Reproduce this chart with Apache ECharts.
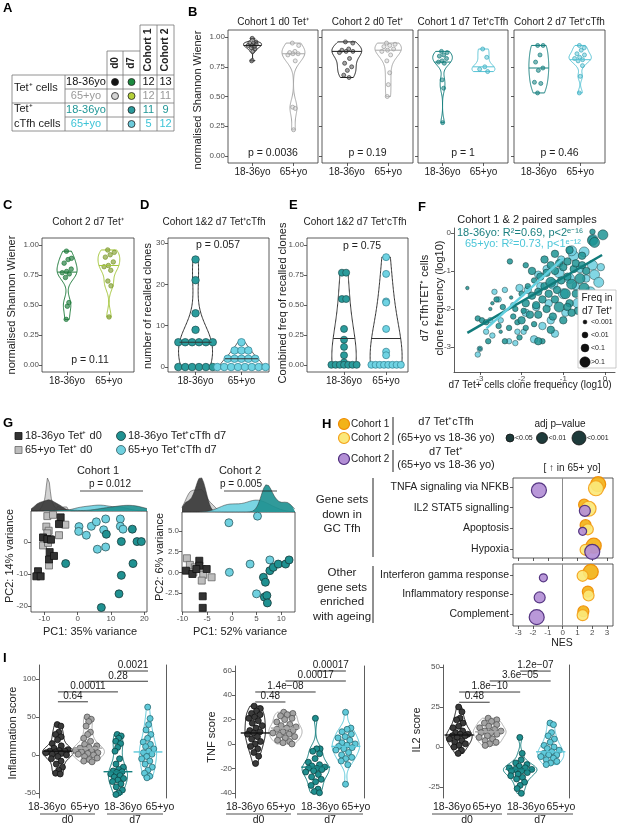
<!DOCTYPE html>
<html>
<head>
<meta charset="utf-8">
<script src="https://cdn.jsdelivr.net/npm/echarts@6.0.0/dist/echarts.min.js"></script>
<style>
html, body { margin: 0; padding: 0; background: #fff; }
#chart { width: 617px; height: 824px; }
</style>
</head>
<body>
<div id="chart"></div>
<script>
// ---------- A: sample table ----------
const tableAges = ['18-36yo', '65+yo', '18-36yo', '65+yo'];
const tableAgeColors = ['#111', '#999', '#1f9696', '#3cc3d6'];
const tableD0 = ['#111', '#d4d4d4', null, null];
const tableD7 = ['#1b8a3e', '#b5d13a', '#2a9a9c', '#6ccbdc'];
const tableCohort1 = [12, 12, 11, 5];
const tableCohort2 = [13, 11, 9, 12];

// ---------- B/C/D/E: diversity and recalled clones ----------
const ageCats = ['18-36yo', '65+yo'];
const b1Young = [0.99, 0.96, 0.95, 0.95, 0.94, 0.93, 0.93, 0.92, 0.91, 0.90, 0.88, 0.80];
const b1Old = [0.95, 0.93, 0.88, 0.87, 0.86, 0.86, 0.85, 0.80, 0.41, 0.40, 0.22];
const b1Mid = [0.93, 0.86];
const b2Young = [0.96, 0.95, 0.90, 0.89, 0.88, 0.88, 0.87, 0.82, 0.78, 0.75, 0.72, 0.68, 0.66];
const b2Old = [0.95, 0.94, 0.93, 0.92, 0.90, 0.89, 0.88, 0.85, 0.80, 0.70, 0.60, 0.50];
const b2Mid = [0.88, 0.89];
const b3Young = [0.88, 0.87, 0.85, 0.84, 0.82, 0.80, 0.79, 0.78, 0.64, 0.57, 0.28];
const b3Old = [0.90, 0.83, 0.75, 0.73, 0.71];
const b3Mid = [0.79, 0.75];
const b4Young = [0.93, 0.93, 0.85, 0.79, 0.74, 0.72, 0.62, 0.61, 0.53];
const b4Old = [0.93, 0.91, 0.89, 0.86, 0.85, 0.83, 0.82, 0.81, 0.80, 0.76, 0.67, 0.53];
const b4Mid = [0.74, 0.81];
const bPvals = ['p = 0.0036', 'p = 0.19', 'p = 1', 'p = 0.46'];
const cYoung = [0.95, 0.89, 0.88, 0.85, 0.80, 0.78, 0.77, 0.76, 0.73, 0.52, 0.49, 0.38];
const cOld = [0.96, 0.94, 0.92, 0.90, 0.86, 0.83, 0.82, 0.79, 0.70, 0.66, 0.40];
const cMid = [0.775, 0.83];
const dYoung = [26, 21, 13, 9, 6, 6, 6, 6, 6, 6, 0, 0, 0, 0, 0, 0];
const dOld = [6, 4, 4, 4, 2, 2, 2, 2, 2, 0, 0, 0, 0, 0, 0, 0, 0];
const dMid = [6, 2];
const eYoung = [0.77, 0.77, 0.55, 0.55, 0.30, 0.21, 0.15, 0.08, 0.02, 0, 0, 0, 0, 0, 0, 0];
const eOld = [0.90, 0.76, 0.53, 0.52, 0.30, 0.11, 0.08, 0, 0, 0, 0, 0, 0, 0, 0];
const eMid = [0.22, 0.22];
const shannonTicks = [0, 0.25, 0.5, 0.75, 1];
const cloneTicks = [0, 10, 20, 30];

// ---------- F: paired clone frequencies [x, y, freq class] ----------
const fYoung = [[-3.3,-1.45,0],[-3.05,-2.25,1],[-2.95,-2.3,1],[-2.85,-2.35,1],[-3.0,-3.05,0],[-2.75,-2.0,0],[-2.7,-1.85,0],[-2.8,-2.85,1],[-2.55,-2.45,1],[-2.5,-2.6,0],[-2.45,-1.95,1],[-2.4,-2.85,1],[-2.3,-2.5,1],[-2.25,-1.7,0],[-2.2,-2.2,1],[-2.15,-2.0,1],[-2.1,-2.35,1],[-2.05,-2.75,1],[-2.0,-1.6,1],[-2.0,-2.3,2],[-1.95,-2.05,1],[-1.9,-1.85,2],[-1.9,-2.5,1],[-1.85,-1.4,1],[-1.8,-2.15,2],[-1.75,-1.65,2],[-1.7,-2.4,1],[-1.7,-1.25,1],[-1.65,-1.9,2],[-1.6,-1.55,2],[-1.6,-2.15,2],[-1.55,-1.15,2],[-1.5,-1.75,2],[-1.5,-2.85,1],[-1.45,-1.4,2],[-1.4,-1.05,2],[-1.4,-2.0,2],[-1.35,-1.6,2],[-1.3,-0.85,2],[-1.3,-1.3,3],[-1.25,-2.2,2],[-1.2,-1.75,2],[-1.2,-1.0,2],[-1.15,-1.5,2],[-1.1,-0.8,2],[-1.1,-1.95,3],[-1.05,-1.25,2],[-1.0,-0.9,2],[-1.0,-2.3,2],[-0.95,-1.6,3],[-0.9,-1.15,2],[-0.9,-0.75,2],[-0.85,-1.85,2],[-0.8,-1.35,3],[-0.75,-0.95,2],[-0.7,-1.6,2],[-0.7,-0.8,2],[-0.65,-2.05,2],[-0.6,-1.2,3],[-0.55,-0.85,2],[-0.5,-1.45,3],[-0.45,-1.0,2],[-0.4,-1.75,2],[-0.3,-0.2,3],[-0.25,-0.25,3],[-0.05,-0.05,3],[-0.3,0.03,1],[-2.28,-0.75,1],[-1.3,-2.55,2],[-1.6,-2.85,2],[-1.9,-0.85,1],[-2.6,-1.75,1],[-0.35,-2.0,1],[-1.75,-1.0,2],[-1.45,-0.7,2],[-1.2,-0.55,2],[-0.85,-0.45,2],[-0.55,-0.6,2],[-0.9,-1.95,2],[-0.8,-2.1,2]];
const fOld = [[-3.0,-3.05,1],[-3.05,-3.2,1],[-2.85,-2.6,1],[-2.7,-2.7,1],[-2.65,-1.55,1],[-2.55,-1.75,1],[-2.4,-1.5,1],[-2.3,-2.85,1],[-2.2,-1.9,1],[-2.1,-2.6,1],[-2.05,-1.45,2],[-1.9,-2.1,2],[-1.85,-1.5,2],[-1.7,-2.8,2],[-1.65,-1.95,2],[-1.55,-1.4,2],[-1.5,-2.45,2],[-1.4,-0.95,2],[-1.35,-1.85,2],[-1.25,-1.35,3],[-1.2,-2.65,2],[-1.1,-1.05,3],[-1.05,-0.7,2],[-1.0,-1.6,3],[-0.95,-2.1,2],[-0.85,-1.2,3],[-0.75,-0.6,3],[-0.7,-1.4,2],[-0.65,-1.85,3],[-0.6,-0.95,2],[-0.5,-0.5,3],[-0.45,-1.2,2],[-0.35,-1.55,3],[-0.3,-0.85,3],[-0.25,-1.1,3],[-0.8,-0.47,3],[-0.29,-0.17,3],[-2.75,-2.3,1],[-2.5,-2.3,1],[-1.95,-2.6,1],[-1.6,-1.1,2],[-1.3,-2.3,2],[-0.15,-1.3,3],[-0.1,-0.9,2],[-2.15,-2.9,1]];
const fYoungFit = [[-3.3, -2.63], [-0.07, -0.58]];
const fOldFit = [[-2.84, -2.51], [-1.0, -0.67]];
const fTicks = [-3, -2, -1, 0];
const fFreqLabels = ['<0.001', '<0.01', '<0.1', '>0.1'];

// ---------- G: PCA [PC1, PC2] ----------
const g1YoungD0 = [[-5.1,7.8],[-5.6,5.7],[-10.4,1.5],[-9.1,1.0],[-8.0,0.8],[-8.4,-3.1],[-8.6,-5.4],[-7.1,-4.3],[-11.9,-9.1],[-12.4,-10.7],[-11.1,-10.7]];
const g1OldD0 = [[-9.1,8.2],[-7.4,8.6],[-5.6,2.2],[-9.4,4.9],[-8.7,3.6],[-10.4,-1.0],[-8.4,1.0],[-3.7,5.5],[-8.6,-7.3],[-8.9,-0.2],[-9.1,2.8]];
const g1YoungD7 = [[8.6,2.5],[13.1,0.2],[16.4,4.1],[17.8,0.2],[19.1,0.2],[16.6,-6.7],[-3.6,-6.7],[13.1,-10.4],[12.4,-16.2],[7.1,-20.5]];
const g1OldD7 = [[0.4,4.9],[0.3,3.4],[2.6,2.2],[4.1,5.0],[5.6,6.4],[8.4,7.3],[7.8,3.9],[5.9,-2.2],[8.4,-1.5],[12.8,7.3],[12.8,5.0],[13.6,4.1]];
const g2YoungD0 = [[-9.3,0.2],[-8.0,-0.2],[-6.6,1.4],[-6.6,0.8],[-5.1,0.4],[-7.2,0.4],[-5.9,-2.9],[-5.9,-4.3]];
const g2OldD0 = [[-9.1,1.7],[-8.5,0.9],[-7.5,0.6],[-6.1,0.4],[-5.8,-0.3],[-6.1,-1.0],[-4.1,-0.6],[-7.8,0.0]];
const g2YoungD7 = [[6.4,-0.6],[6.8,-1.2],[7.7,0.2],[8.4,0.6],[9.4,1.0],[10.9,1.0],[11.6,1.5],[6.6,-3.0],[7.1,-2.8],[7.2,-3.7]];
const g2OldD7 = [[-0.6,6.0],[5.2,6.8],[-0.5,0.0],[3.7,1.0],[7.7,1.5],[5.0,-2.6]];

// ---------- H: GSEA NES and adj p class ----------
const hSets = ['TNFA signaling via NFKB', 'IL2 STAT5 signalling', 'Apoptosis', 'Hypoxia', 'Interferon gamma response', 'Inflammatory response', 'Complement'];
const hC1Tfh = [2.4, 1.45, 1.55, 2.1, 1.9, 1.7, 1.4];
const hC1TfhP = [2, 1, 1, 2, 2, 1, 1];
const hC2Tfh = [2.25, 1.75, 1.7, 1.55, 1.35, 1.75, 1.35];
const hC2TfhP = [2, 2, 1, 1, 1, 1, 1];
const hC2Tet = [-1.6, 1.5, 1.35, 2.0, -1.3, -1.55, -1.75];
const hC2TetP = [2, 1, 0, 2, 0, 1, 2];
const hTicks = [-3, -2, -1, 0, 1, 2, 3];

// ---------- I: module scores ----------
const iCats = ['18-36yo', '65+yo', '18-36yo', '65+yo'];
const inflD0Young = [40, 38, 30, 27, 24, 20, 15, 12, 9, 7, 6, 5, 5, 4, 3, 2, 1, 0, -2, -5, -8, -12, -16, -20, -24, -25];
const inflD0Old = [50, 47, 44, 38, 30, 27, 22, 18, 14, 12, 10, 9, 8, 7, 6, 5, 4, 3, 2, 1, 0, -2, -4, -6, -8, -9];
const inflD7Young = [27, 25, 22, 18, 15, 10, 5, -5, -12, -16, -19, -21, -22, -23, -25, -27, -29, -31, -33, -35, -38, -42, -46, -50, -52];
const inflD7Old = [63, 48, 40, 33, 27, 22, 17, 14, 11, 8, 5, 3, 1, -2, -5, -8, -12, -16, -20, -24, -28, -30];
const inflMid = [5, 9, -22, 4];
const inflBrackets = [[1, 2, 70], [1, 3, 83], [2, 4, 97], [3, 4, 110.5]];
const inflP = ['0.64', '0.00011', '0.28', '0.0021'];
const tnfD0Young = [31, 29, 27, 25, 24, 22, 21, 19, 17, 15, 13, 11, 10, 9, 8, 6, 4, 2, 0, -2, -4, -7, -10, -16];
const tnfD0Old = [26, 25, 24, 23, 21, 20, 18, 16, 15, 14, 13, 12, 11, 10, 9, 8, 7, 6, 5, 3, 2, 1, 0];
const tnfD7Young = [21, -4, -4, -6, -8, -12, -15, -17, -18, -19, -20, -20, -21, -22, -23, -25, -27, -29, -31, -34, -37, -39, -40];
const tnfD7Old = [26, 13, 12, 10, 8, 6, 5, 3, 1, 0, -1, -2, -3, -4, -5, -7, -9, -11, -12, -14, -17, -33];
const tnfMid = [9, 13, -19, -2];
const tnfBrackets = [[1, 2, 34.4], [1, 3, 42.6], [2, 4, 51.6], [3, 4, 59.8]];
const tnfP = ['0.48', '1.4e\u221208', '0.00017', '0.00017'];
const il2D0Young = [25, 22, 18, 17, 15, 13, 12, 10, 9, 8, 8, 7, 7, 6, 5, 4, 3, 2, 1, 0, -2, -4];
const il2D0Old = [18, 17, 16, 15, 14, 13, 12, 11, 10, 10, 9, 9, 8, 7, 6, 5, 4, 3, 2, 1];
const il2D7Young = [6, -4, -8, -10, -11, -12, -13, -13, -14, -14, -15, -15, -16, -17, -18, -19, -20, -22, -24, -26, -29];
const il2D7Old = [15, 14, 9, 7, 5, 3, 1, 0, -1, -2, -3, -4, -5, -5, -6, -7, -8, -9, -10, -11];
const il2Mid = [7.5, 9.5, -14, -3];
const il2Brackets = [[1, 2, 28], [1, 3, 34.4], [2, 4, 41.3], [3, 4, 47.5]];
const il2P = ['0.48', '1.8e\u221210', '3.6e\u221205', '1.2e\u221207'];

// ---------- helpers ----------
const FONT = '"Liberation Sans", Arial, Helvetica, sans-serif';
const grids = [], xAxes = [], yAxes = [], series = [], graphics = [];

function txt(text, x, y, o) {
  o = o || {};
  return { type: 'text', x: x, y: y, rotation: o.rot || 0, silent: true, z: 100,
    style: { text: text, fill: o.color || '#222', font: (o.bold ? 'bold ' : '') + (o.size || 10) + 'px ' + FONT,
      textAlign: o.align || 'center', textVerticalAlign: o.valign || 'middle' } };
}
function ln(x1, y1, x2, y2, o) {
  o = o || {};
  return { type: 'line', silent: true, z: 100, shape: { x1: x1, y1: y1, x2: x2, y2: y2 },
    style: { stroke: o.color || '#222', lineWidth: o.w || 0.8 } };
}
function dot(cx, cy, r, fill, stroke, w) {
  return { type: 'circle', silent: true, z: 100, shape: { cx: cx, cy: cy, r: r },
    style: { fill: fill, stroke: stroke || '#222', lineWidth: w || 0.8 } };
}
function box(x, y, w, h, fill, stroke) {
  return { type: 'rect', silent: true, z: 100, shape: { x: x, y: y, width: w, height: h },
    style: { fill: fill, stroke: stroke || '#222', lineWidth: 0.8 } };
}

function axis(kind, min, max, ticks, o) {
  o = o || {};
  return {
    type: 'value', min: min, max: max, inverse: !!o.inverse, show: o.show !== false,
    position: o.position || (kind === 'x' ? 'bottom' : 'left'),
    splitLine: { show: false },
    axisLine: { show: !!o.line, onZero: false, lineStyle: { color: '#333', width: 0.8 } },
    axisTick: { show: !!ticks && o.tick !== false, customValues: ticks || undefined, length: 3,
      lineStyle: { color: '#333', width: 0.8 } },
    axisLabel: { show: !!ticks && o.label !== false, customValues: ticks || undefined, formatter: o.fmt,
      fontSize: o.fs || 8, color: o.lc || '#4d4d4d', margin: o.margin || 3, fontFamily: FONT, hideOverlap: false }
  };
}

function addGrid(l, t, w, h, xa, ya, border) {
  const gi = grids.length;
  grids.push({ left: l, top: t, width: w, height: h, show: !!border, borderColor: '#333', borderWidth: 0.8,
    backgroundColor: 'transparent', containLabel: false });
  xa.gridIndex = gi; ya.gridIndex = gi;
  xAxes.push(xa); yAxes.push(ya);
  return { gi: gi, xi: xAxes.length - 1, yi: yAxes.length - 1 };
}

function bwNrd0(v) {
  const n = v.length, m = v.reduce((a, b) => a + b, 0) / n;
  const sd = Math.sqrt(v.reduce((a, b) => a + (b - m) * (b - m), 0) / (n - 1));
  const s = v.slice().sort((a, b) => a - b);
  const q = p => { const h = (n - 1) * p, l = Math.floor(h); return s[l] + (h - l) * (s[Math.min(l + 1, n - 1)] - s[l]); };
  const iqr = (q(0.75) - q(0.25)) / 1.34;
  let lo = Math.min(sd, iqr > 0 ? iqr : sd);
  if (!(lo > 0)) lo = 1;
  return 0.9 * lo * Math.pow(n, -0.2);
}
function kde(v, a, b, k, adjust) {
  const bw = bwNrd0(v) * (adjust || 1), n = v.length, out = [];
  for (let i = 0; i <= k; i++) {
    const y = a + (b - a) * i / k;
    let d = 0;
    v.forEach(x => { const z = (y - x) / bw; d += Math.exp(-0.5 * z * z); });
    out.push([y, d / (n * bw * Math.sqrt(2 * Math.PI))]);
  }
  return out;
}
function interpD(dens, y) {
  if (y <= dens[0][0]) return dens[0][1];
  for (let i = 1; i < dens.length; i++) {
    if (y <= dens[i][0]) {
      const a = dens[i - 1], b = dens[i], t = (y - a[0]) / ((b[0] - a[0]) || 1);
      return a[1] + t * (b[1] - a[1]);
    }
  }
  return dens[dens.length - 1][1];
}
function jit(i) { return ((i * 0.6180339 + 0.37) % 1) * 2 - 1; }

// o.hw: per-group max half widths ("width" scaling); otherwise shared area scaling with o.maxHW
function violinPanel(ax, groups, o) {
  const shapes = groups.map(g => kde(g.vals, Math.min.apply(null, g.vals), Math.max.apply(null, g.vals), 80, o.adjust));
  let maxD = 0;
  shapes.forEach(s => s.forEach(p => { if (p[1] > maxD) maxD = p[1]; }));
  const scs = shapes.map((s, i) => {
    if (o.hw) return o.hw[i] / Math.max.apply(null, s.map(p => p[1]));
    return o.maxHW / maxD;
  });
  series.push({
    type: 'custom', xAxisIndex: ax.xi, yAxisIndex: ax.yi, silent: true, z: 2,
    data: groups.map(g => [g.pos, g.mid]),
    renderItem: function (params, api) {
      const i0 = params.dataIndex, g = groups[i0], s = shapes[i0], sc = scs[i0], pts = [];
      s.forEach(p => pts.push(api.coord([g.pos + p[1] * sc, p[0]])));
      for (let i = s.length - 1; i >= 0; i--) pts.push(api.coord([g.pos - s[i][1] * sc, s[i][0]]));
      return { type: 'polygon', shape: { points: pts }, style: { fill: 'none', stroke: g.line, lineWidth: o.lineW || 1 } };
    }
  });
  groups.forEach((g, gi) => {
    const s = shapes[gi], sc = scs[gi];
    const data = g.vals.map((v, i) => {
      let off;
      if (o.mode === 'dots') {
        const same = g.vals.filter(u => u === v).length;
        const k = g.vals.slice(0, i).filter(u => u === v).length;
        off = (k - (same - 1) / 2) * o.dotGap;
      } else {
        off = jit(i) * o.spread * interpD(s, v) * sc;
      }
      return [g.pos + off, v];
    });
    series.push({ type: 'scatter', xAxisIndex: ax.xi, yAxisIndex: ax.yi, silent: true, z: 3,
      symbol: 'circle', symbolSize: o.ptSize, data: data,
      itemStyle: { color: g.ptFill, borderColor: g.ptStroke, borderWidth: o.ptBorder || 0.7, opacity: 1 } });
  });
  series.push({
    type: 'custom', xAxisIndex: ax.xi, yAxisIndex: ax.yi, silent: true, z: 4,
    data: groups.map(g => [g.pos, g.mid]),
    renderItem: function (params, api) {
      const i0 = params.dataIndex, g = groups[i0], s = shapes[i0];
      const hw = o.barHW ? o.barHW : interpD(s, g.mid) * scs[i0];
      const a = api.coord([g.pos - hw, g.mid]), b = api.coord([g.pos + hw, g.mid]);
      return { type: 'line', shape: { x1: a[0], y1: a[1], x2: b[0], y2: b[1] },
        style: { stroke: g.line, lineWidth: o.midW || 1 } };
    }
  });
}

const COL = {
  d0y: { line: '#1a1a1a', ptFill: 'rgba(90,90,90,0.55)', ptStroke: '#333' },
  d0o: { line: '#a8a8a8', ptFill: 'rgba(210,210,210,0.5)', ptStroke: '#999' },
  tfy: { line: '#17807f', ptFill: 'rgba(23,128,127,0.55)', ptStroke: '#17807f' },
  tfo: { line: '#55c3d5', ptFill: 'rgba(85,195,213,0.5)', ptStroke: '#3aa9bb' },
  gy: { line: '#1d7a3a', ptFill: 'rgba(29,122,58,0.65)', ptStroke: '#1d7a3a' },
  go: { line: '#a4c63a', ptFill: 'rgba(130,160,50,0.65)', ptStroke: '#7c9a2a' }
};
function grp(pos, vals, mid, c) { return Object.assign({ pos: pos, vals: vals, mid: mid }, c); }
const catFmt = v => ageCats[Math.round(v) - 1];
const xCat = (min, max) => axis('x', min, max, [1, 2], { fmt: catFmt, fs: 10, lc: '#222', margin: 4 });

// ---------- B ----------
const bFrames = [[228, 90], [322, 91], [418, 90], [514, 91]];
const bTitles = ['Cohort 1 d0 Tet\u207A', 'Cohort 2 d0 Tet\u207A', 'Cohort 1 d7 Tet\u207AcTfh', 'Cohort 2 d7 Tet\u207AcTfh'];
const bData = [[b1Young, b1Old, b1Mid, 'd0y', 'd0o', [0.22, 0.28], 0.6], [b2Young, b2Old, b2Mid, 'd0y', 'd0o', [0.36, 0.32], 1],
  [b3Young, b3Old, b3Mid, 'tfy', 'tfo', [0.24, 0.28], 0.8], [b4Young, b4Old, b4Mid, 'tfy', 'tfo', [0.24, 0.27], 1]];
bFrames.forEach((f, i) => {
  const ax = addGrid(f[0], 30, f[1], 133, xCat(0.4, 2.6),
    axis('y', -0.06, 1.06, shannonTicks, { label: i === 0, fmt: v => v.toFixed(2) }), true);
  const d = bData[i];
  violinPanel(ax, [grp(1, d[0], d[2][0], COL[d[3]]), grp(2, d[1], d[2][1], COL[d[4]])],
    { hw: d[5], spread: 0.6, ptSize: 4, adjust: d[6] });
  graphics.push(txt(bTitles[i], f[0] + f[1] / 2, 22, { size: 10 }));
  graphics.push(txt(bPvals[i], f[0] + f[1] / 2, 153, { size: 10.5 }));
});
graphics.push(txt('normalised Shannon Wiener', 198, 100, { rot: Math.PI / 2, size: 11 }));

// ---------- C ----------
const axC = addGrid(42, 238, 92, 134, xCat(0.4, 2.6), axis('y', -0.06, 1.06, shannonTicks, { fmt: v => v.toFixed(2) }), true);
violinPanel(axC, [grp(1, cYoung, cMid[0], COL.gy), grp(2, cOld, cMid[1], COL.go)], { hw: [0.24, 0.26], spread: 0.6, ptSize: 4.5, adjust: 0.8 });
graphics.push(txt('Cohort 2 d7 Tet\u207A', 88, 222, { size: 10 }));
graphics.push(txt('p = 0.11', 90, 360, { size: 10.5 }));
graphics.push(txt('normalised Shannon Wiener', 12, 305, { rot: Math.PI / 2, size: 11 }));

// ---------- D ----------
const DOT_Y = { line: '#333', ptFill: '#2a9c9c', ptStroke: '#1c4f50' };
const DOT_O = { line: '#333', ptFill: '#6fd3e3', ptStroke: '#2f7f8f' };
const axD = addGrid(168, 238, 101, 134, xCat(0.4, 2.6), axis('y', -1.2, 31.2, cloneTicks), true);
violinPanel(axD, [grp(1, dYoung, dMid[0], DOT_Y), grp(2, dOld, dMid[1], DOT_O)], { hw: [0.37, 0.46], adjust: 1.5, mode: 'dots', dotGap: 0.15, ptSize: 7.5 });
graphics.push(txt('Cohort 1&2 d7 Tet\u207AcTfh', 214, 222, { size: 10 }));
graphics.push(txt('p = 0.057', 218, 245, { size: 10.5 }));
graphics.push(txt('number of recalled clones', 148, 306, { rot: Math.PI / 2, size: 11 }));

// ---------- E ----------
const axE = addGrid(307, 238, 101, 134, xCat(0.12, 2.52), axis('y', -0.06, 1.06, shannonTicks, { fmt: v => v.toFixed(2) }), true);
violinPanel(axE, [grp(1, eYoung, eMid[0], DOT_Y), grp(2, eOld, eMid[1], DOT_O)], { hw: [0.29, 0.38], adjust: 1.8, mode: 'dots', dotGap: 0.1, ptSize: 7 });
graphics.push(txt('Cohort 1&2 d7 Tet\u207AcTfh', 355, 222, { size: 10 }));
graphics.push(txt('p = 0.75', 362, 246, { size: 10.5 }));
graphics.push(txt('Combined freq of recalled clones', 283, 303, { rot: Math.PI / 2, size: 11 }));

// ---------- F ----------
const fSizes = [3.5, 5.5, 7.5, 10];
const axF = addGrid(454, 228, 161, 144, axis('x', -3.62, 0.24, fTicks, { line: true }), axis('y', -3.66, 0.13, fTicks, { line: true }));
series.push({ type: 'scatter', xAxisIndex: axF.xi, yAxisIndex: axF.yi, silent: true, z: 2, data: fOld,
  symbolSize: v => fSizes[v[2]], itemStyle: { color: '#6ccfdf', borderColor: '#274848', borderWidth: 0.6, opacity: 0.85 } });
series.push({ type: 'scatter', xAxisIndex: axF.xi, yAxisIndex: axF.yi, silent: true, z: 3, data: fYoung,
  symbolSize: v => fSizes[v[2]], itemStyle: { color: '#1f9494', borderColor: '#173737', borderWidth: 0.6, opacity: 0.85 } });
series.push({ type: 'line', xAxisIndex: axF.xi, yAxisIndex: axF.yi, silent: true, z: 4, data: fYoungFit,
  showSymbol: false, symbol: 'none', lineStyle: { color: '#117b7b', width: 2.5 } });
series.push({ type: 'line', xAxisIndex: axF.xi, yAxisIndex: axF.yi, silent: true, z: 5, data: fOldFit,
  showSymbol: false, symbol: 'none', lineStyle: { color: '#63d0e0', width: 2.5 } });
graphics.push(txt('Cohort 1 & 2 paired samples', 527, 220, { size: 11 }));
graphics.push(txt('18-36yo: R\u00B2=0.69, p<2\u1D49\u207B\u00B9\u2076', 457, 233, { size: 11, align: 'left', color: '#1a7f7f' }));
graphics.push(txt('65+yo: R\u00B2=0.73, p<1\u1D49\u207B\u00B9\u00B2', 465, 244, { size: 11, align: 'left', color: '#4cc6d8' }));
graphics.push(txt('d7 cTfhTET\u207A cells', 425, 298, { rot: Math.PI / 2, size: 11 }));
graphics.push(txt('clone frequency (log10)', 440, 298, { rot: Math.PI / 2, size: 11 }));
graphics.push(txt('d7 Tet+ cells clone frequency (log10)', 530, 385, { size: 10 }));
graphics.push(box(578, 290, 38, 78, '#fff', '#bbb'));
graphics.push(txt('Freq in', 597, 298, { size: 10 }));
graphics.push(txt('d7 Tet\u207A', 597, 311, { size: 10 }));
fFreqLabels.forEach((l, i) => {
  const y = [322, 335, 348, 362][i];
  graphics.push(dot(585, y, fSizes[i] / 2 + 0.2, '#111', '#111', 0.5));
  graphics.push(txt(l, 591, y, { size: 7, align: 'left' }));
});

// ---------- G ----------
const gStyles = {
  youngD0: { symbol: 'rect', size: 7, color: '#333', border: '#111' },
  oldD0: { symbol: 'rect', size: 7, color: '#bdbdbd', border: '#666' },
  youngD7: { symbol: 'circle', size: 8, color: '#1f9191', border: '#163a3a' },
  oldD7: { symbol: 'circle', size: 8, color: '#6fd0df', border: '#2d5a60' }
};
const gDensFill = { youngD0: '#3a3a3a', oldD0: '#cfcfcf', youngD7: '#1f9191', oldD7: '#6fd0df' };
function pcaPanel(sp, dp, xr, yr, xt, yt, yfmt, sets) {
  const axS = addGrid(sp[0], sp[1], sp[2], sp[3], axis('x', xr[0], xr[1], xt), axis('y', yr[0], yr[1], yt, { fmt: yfmt }), true);
  const dens = {};
  let maxD = 0;
  Object.keys(sets).forEach(k => {
    dens[k] = kde(sets[k].map(p => p[0]), xr[0], xr[1], 120);
    dens[k].forEach(p => { if (p[1] > maxD) maxD = p[1]; });
  });
  const axD2 = addGrid(dp[0], dp[1], dp[2], dp[3], axis('x', xr[0], xr[1], null, { show: false }), axis('y', 0, maxD * 1.03, null, { show: false }));
  ['oldD0', 'youngD0', 'oldD7', 'youngD7'].forEach((k, i) => {
    series.push({ type: 'line', xAxisIndex: axD2.xi, yAxisIndex: axD2.yi, silent: true, z: 2 + i, data: dens[k],
      showSymbol: false, symbol: 'none', lineStyle: { color: '#333', width: 0.5 },
      areaStyle: { color: gDensFill[k], opacity: 0.92 } });
  });
  ['oldD0', 'youngD0', 'oldD7', 'youngD7'].forEach((k, i) => {
    const st = gStyles[k];
    series.push({ type: 'scatter', xAxisIndex: axS.xi, yAxisIndex: axS.yi, silent: true, z: 3 + i, data: sets[k],
      symbol: st.symbol, symbolSize: st.size, itemStyle: { color: st.color, borderColor: st.border, borderWidth: 0.8, opacity: 1 } });
  });
}
pcaPanel([31, 511, 116, 101], [31, 476, 116, 35], [-14, 20.8], [-21.9, 9.8], [-10, 0, 10, 20], [-20, -10, 0], null,
  { youngD0: g1YoungD0, oldD0: g1OldD0, youngD7: g1YoungD7, oldD7: g1OldD7 });
pcaPanel([182, 512, 113, 100], [182, 476, 113, 36], [-10.1, 12.8], [-4.8, 7.3], [-10, -5, 0, 5, 10], [-2.5, 0, 2.5, 5], v => v.toFixed(1),
  { youngD0: g2YoungD0, oldD0: g2OldD0, youngD7: g2YoungD7, oldD7: g2OldD7 });
graphics.push(box(15, 432.5, 7, 7, '#333', '#111'));
graphics.push(txt('18-36yo Tet\u207A d0', 25, 436, { size: 11, align: 'left' }));
graphics.push(box(15, 446.5, 7, 7, '#bdbdbd', '#666'));
graphics.push(txt('65+yo Tet\u207A d0', 25, 450, { size: 11, align: 'left' }));
graphics.push(dot(121, 436, 4.5, '#1f9191', '#163a3a'));
graphics.push(txt('18-36yo Tet\u207AcTfh d7', 128, 436, { size: 11, align: 'left' }));
graphics.push(dot(121, 450, 4.5, '#6fd0df', '#2d5a60'));
graphics.push(txt('65+yo Tet\u207AcTfh d7', 128, 450, { size: 11, align: 'left' }));
graphics.push(txt('Cohort 1', 98, 471, { size: 11 }));
graphics.push(txt('p = 0.012', 110, 484, { size: 10 }));
graphics.push(ln(80, 491, 143, 491));
graphics.push(txt('Cohort 2', 240, 471, { size: 11 }));
graphics.push(txt('p = 0.005', 241, 484, { size: 10 }));
graphics.push(ln(224, 491, 277, 491));
graphics.push(txt('PC1: 35% variance', 90, 632, { size: 11 }));
graphics.push(txt('PC2: 14% variance', 10, 556, { rot: Math.PI / 2, size: 11 }));
graphics.push(txt('PC1: 52% variance', 240, 632, { size: 11 }));
graphics.push(txt('PC2: 6% variance', 160, 557, { rot: Math.PI / 2, size: 11 }));

// ---------- H ----------
const hStyles = [
  { vals: hC1Tfh, p: hC1TfhP, fill: '#f2b318', stroke: '#ef8a00', dodge: -0.15 },
  { vals: hC2Tfh, p: hC2TfhP, fill: '#fbe87a', stroke: '#f3a21b', dodge: 0.05 },
  { vals: hC2Tet, p: hC2TetP, fill: '#b38fd6', stroke: '#4b2a7a', dodge: 0.15 }
];
const hSizes = [8, 11, 15];
function hFacet(top, h, rows, ymin, ymax, showX) {
  const ax = addGrid(513, top, 100, h,
    axis('x', -3.35, 3.4, hTicks, { label: showX }),
    axis('y', ymin, ymax, rows.map((r, i) => i + 1), { inverse: true, fmt: v => hSets[rows[Math.round(v) - 1]], fs: 10.5, lc: '#222', margin: 4 }), true);
  hStyles.forEach((s, si) => {
    const data = rows.map((r, i) => [s.vals[r], i + 1 + s.dodge, s.p[r]]);
    const ser = { type: 'scatter', xAxisIndex: ax.xi, yAxisIndex: ax.yi, silent: true, z: 3 + si, data: data,
      symbolSize: v => hSizes[v[2]], itemStyle: { color: s.fill, borderColor: s.stroke, borderWidth: 1.2, opacity: 0.92 } };
    if (si === 0) ser.markLine = { silent: true, symbol: ['none', 'none'], label: { show: false },
      lineStyle: { color: '#8c8c8c', width: 1, type: 'solid' }, data: [{ xAxis: 0 }] };
    series.push(ser);
  });
}
hFacet(478, 80, [0, 1, 2, 3], 0.55, 4.45, false);
hFacet(564, 62, [4, 5, 6], 0.45, 3.6, true);
graphics.push(dot(344, 424, 5.5, '#f2b318', '#ef8a00', 1.2));
graphics.push(txt('Cohort 1', 351, 424, { size: 10, align: 'left' }));
graphics.push(dot(344, 438, 5.5, '#fbe87a', '#f3a21b', 1.2));
graphics.push(txt('Cohort 2', 351, 438, { size: 10, align: 'left' }));
graphics.push(dot(344, 459, 5.5, '#b38fd6', '#4b2a7a', 1.2));
graphics.push(txt('Cohort 2', 351, 459, { size: 10, align: 'left' }));
graphics.push(ln(393, 417, 393, 445, { w: 1 }));
graphics.push(ln(393, 450, 393, 472, { w: 1 }));
graphics.push(txt('d7 Tet\u207AcTfh', 446, 422, { size: 11 }));
graphics.push(txt('(65+yo vs 18-36 yo)', 446, 438, { size: 11 }));
graphics.push(txt('d7 Tet\u207A', 446, 452, { size: 11 }));
graphics.push(txt('(65+yo vs 18-36 yo)', 446, 465, { size: 11 }));
graphics.push(txt('adj p\u2013value', 560, 424, { size: 10 }));
[['<0.05', 510, 4], ['<0.01', 542, 5.5], ['<0.001', 579, 7]].forEach(l => {
  graphics.push(dot(l[1], 438, l[2], '#1e3b3b', '#111'));
  graphics.push(txt(l[0], l[1] + l[2] + 1, 438, { size: 7, align: 'left' }));
});
graphics.push(txt('[ \u2191 in 65+ yo]', 572, 468, { size: 10 }));
graphics.push(txt('NES', 562, 643, { size: 10.5 }));
['Gene sets', 'down in', 'GC Tfh'].forEach((t, i) => graphics.push(txt(t, 342, 500 + i * 14.5, { size: 11.5 })));
['Other', 'gene sets', 'enriched', 'with ageing'].forEach((t, i) => graphics.push(txt(t, 342, 573 + i * 14.5, { size: 11.5 })));
graphics.push(ln(373, 478, 373, 557, { w: 1 }));
graphics.push(ln(373, 566, 373, 623, { w: 1 }));

// ---------- I ----------
const I_COL = [
  { line: '#111', ptFill: '#3a3a3a', ptStroke: '#111' },
  { line: '#aaa', ptFill: '#a3a3a3', ptStroke: '#555' },
  { line: '#178080', ptFill: '#1f8f8f', ptStroke: '#0d4545' },
  { line: '#5cc8da', ptFill: '#5fc9d9', ptStroke: '#2a6c75' }
];
function iPanel(l, t, w, h, xr, yr, yt, sets, mids, brackets, pvals, labelX, lines, ylab, ylabX, ylabY) {
  const ax = addGrid(l, t, w, h, axis('x', xr[0], xr[1], null, { show: false }), axis('y', yr[0], yr[1], yt, { line: true }));
  const right = axis('y', yr[0], yr[1], null, { position: 'right', line: true });
  right.gridIndex = ax.gi; yAxes.push(right);
  violinPanel(ax, sets.map((s, i) => grp(i + 1, s, mids[i], I_COL[i])), { maxHW: 0.55, spread: 0.8, ptSize: 6, barHW: 0.48, midW: 1.4, ptBorder: 0.8 });
  series.push({
    type: 'custom', xAxisIndex: ax.xi, yAxisIndex: ax.yi, silent: true, z: 5, data: brackets,
    encode: { x: [0, 1], y: 2 },
    renderItem: function (params, api) {
      const b = brackets[params.dataIndex];
      const p1 = api.coord([b[0], b[2]]), p2 = api.coord([b[1], b[2]]);
      return { type: 'group', children: [
        { type: 'line', shape: { x1: p1[0], y1: p1[1], x2: p2[0], y2: p2[1] }, style: { stroke: '#222', lineWidth: 0.9 } },
        { type: 'text', x: (p1[0] + p2[0]) / 2, y: p1[1] - 0.5,
          style: { text: pvals[params.dataIndex], font: '10px ' + FONT, fill: '#222', textAlign: 'center', textVerticalAlign: 'bottom' } }
      ] };
    }
  });
  iCats.forEach((c, i) => graphics.push(txt(c, labelX[i], 807, { size: 10.5 })));
  graphics.push(ln(lines[0], 814, lines[1], 814));
  graphics.push(ln(lines[2], 814, lines[3], 814));
  graphics.push(txt('d0', (lines[0] + lines[1]) / 2, 820, { size: 10.5 }));
  graphics.push(txt('d7', (lines[2] + lines[3]) / 2, 820, { size: 10.5 }));
  graphics.push(txt(ylab, ylabX, ylabY, { rot: Math.PI / 2, size: 11 }));
}
iPanel(39, 665, 127, 133, [0.37, 4.6], [-56.6, 118.4], [-50, 0, 50, 100],
  [inflD0Young, inflD0Old, inflD7Young, inflD7Old], inflMid, inflBrackets, inflP,
  [47, 85, 123, 160], [40, 95, 107, 163], 'Inflammation score', 13, 733);
iPanel(235, 666, 129, 132, [0.33, 4.6], [-44.3, 63.9], [-40, -20, 0, 20, 40, 60],
  [tnfD0Young, tnfD0Old, tnfD7Young, tnfD7Old], tnfMid, tnfBrackets, tnfP,
  [245, 281, 320, 356], [226, 291, 297, 363], 'TNF score', 212, 737);
iPanel(443, 665, 126, 133, [0.47, 4.6], [-31.9, 51.3], [-25, 0, 25, 50],
  [il2D0Young, il2D0Old, il2D7Young, il2D7Old], il2Mid, il2Brackets, il2P,
  [452, 487, 526, 561], [432, 502, 507, 573], 'IL2 score', 417, 730);

// ---------- A: table ----------
const tr = [75, 89, 103, 117, 131];
const TL = { color: '#777', w: 0.8 };
graphics.push(ln(12, 75, 174, 75, TL), ln(65, 89, 174, 89, TL), ln(12, 103, 174, 103, TL), ln(65, 117, 174, 117, TL), ln(12, 131, 174, 131, TL));
graphics.push(ln(107, 51, 140, 51, TL), ln(140, 25, 174, 25, TL));
graphics.push(ln(12, 75, 12, 131, TL), ln(65, 75, 65, 131, TL), ln(107, 51, 107, 131, TL), ln(123, 51, 123, 131, TL),
  ln(140, 25, 140, 131, TL), ln(157, 25, 157, 131, TL), ln(174, 25, 174, 131, TL));
graphics.push(txt('d0', 115, 63, { rot: Math.PI / 2, bold: true, size: 10 }));
graphics.push(txt('d7', 131.5, 63, { rot: Math.PI / 2, bold: true, size: 10 }));
graphics.push(txt('Cohort 1', 148.5, 50, { rot: Math.PI / 2, bold: true, size: 10.5 }));
graphics.push(txt('Cohort 2', 165.5, 50, { rot: Math.PI / 2, bold: true, size: 10.5 }));
graphics.push(txt('Tet\u207A cells', 14, 88, { size: 11, align: 'left' }));
graphics.push(txt('Tet\u207A', 14, 109, { size: 11, align: 'left' }));
graphics.push(txt('cTfh cells', 14, 124, { size: 11, align: 'left' }));
tableAges.forEach((a, i) => {
  const y = (tr[i] + tr[i + 1]) / 2;
  graphics.push(txt(a, 86, y, { size: 11, color: tableAgeColors[i] }));
  if (tableD0[i]) graphics.push(dot(115, y, 3.5, tableD0[i], '#222'));
  graphics.push(dot(131.5, y, 3.5, tableD7[i], '#222'));
  graphics.push(txt(String(tableCohort1[i]), 148.5, y, { size: 11, color: tableAgeColors[i] }));
  graphics.push(txt(String(tableCohort2[i]), 165.5, y, { size: 11, color: tableAgeColors[i] }));
});

// ---------- panel letters ----------
[['A', 3, 8], ['B', 188, 12], ['C', 3, 205], ['D', 140, 205], ['E', 289, 205], ['F', 418, 207], ['G', 3, 423], ['H', 322, 424], ['I', 3, 658]]
  .forEach(l => graphics.push(txt(l[0], l[1], l[2], { bold: true, size: 13, align: 'left', color: '#000' })));

const chart = echarts.init(document.getElementById('chart'));
chart.setOption({
  animation: false,
  backgroundColor: '#fff',
  textStyle: { fontFamily: FONT },
  grid: grids,
  xAxis: xAxes,
  yAxis: yAxes,
  series: series,
  graphic: { elements: graphics }
});
</script>
</body>
</html>
